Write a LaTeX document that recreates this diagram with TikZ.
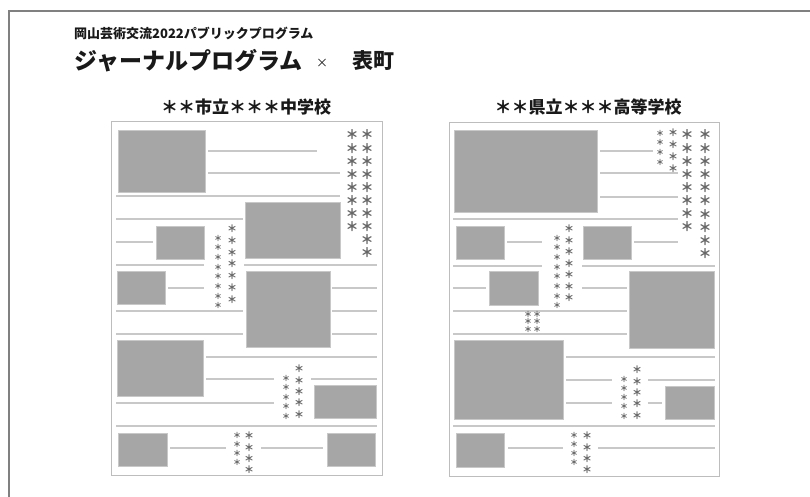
\documentclass[tikz,border=0pt]{standalone}
\usepackage{fontspec}
\setmainfont{Noto Sans CJK JP}
\usepackage{tikz}
\definecolor{photogray}{HTML}{A6A6A6}
\definecolor{rulegray}{HTML}{C8C8C8}
\definecolor{pagegray}{HTML}{BDBDBD}
\definecolor{framegray}{HTML}{808080}
\definecolor{stargray}{HTML}{666666}
\tikzstyle{frame} = [draw=framegray, line width=2.2pt]
\tikzstyle{page} = [draw=pagegray, line width=1pt]
\tikzstyle{photo} = [fill=photogray, draw=rulegray, line width=0.6pt]
\tikzstyle{rule} = [draw=rulegray, line width=1.4pt]
\tikzstyle{title} = [inner sep=0pt, text=black!90, font=\bfseries]
\tikzstyle{bigstar} = [inner sep=0pt, text=stargray, font=\bfseries\fontsize{13}{13}\selectfont]
\tikzstyle{midstar} = [inner sep=0pt, text=stargray, font=\bfseries\fontsize{10}{10}\selectfont]
\tikzstyle{smallstar} = [inner sep=0pt, text=stargray, font=\bfseries\fontsize{8}{8}\selectfont]

\begin{document}
\begin{tikzpicture}[x=1pt, y=-1pt]
\useasboundingbox (0,0) rectangle (810,497);
\draw [frame] (810,11) -- (9,11) -- (9,497);

% headings
\node (sub) [title, anchor=west, font=\bfseries\fontsize{13}{13}\selectfont] at (74,33) {岡山芸術交流2022パブリックプログラム};
\node (head) [title, anchor=west, font=\bfseries\fontsize{23}{23}\selectfont] at (74,61) {ジャーナルプログラム};
\node (cross) [title, font=\fontsize{12}{12}\selectfont] at (322,63) {×};
\node (town) [title, anchor=west, font=\bfseries\fontsize{21}{21}\selectfont] at (352,61) {表町};
\node (junior) [title, font=\bfseries\fontsize{17}{17}\selectfont] at (246,107) {＊＊市立＊＊＊中学校};
\node (senior) [title, font=\bfseries\fontsize{17}{17}\selectfont] at (588,107) {＊＊県立＊＊＊高等学校};

% left page
\draw [page] (111,122) rectangle (382,475);
\draw [photo] (118,130) rectangle (205,192);
\draw [photo] (245,202) rectangle (340,258);
\draw [photo] (156,226) rectangle (204,259);
\draw [photo] (117,271) rectangle (165,304);
\draw [photo] (246,271) rectangle (330,347);
\draw [photo] (117,340) rectangle (203,396);
\draw [photo] (314,385) rectangle (376,418);
\draw [photo] (118,433) rectangle (167,466);
\draw [photo] (327,433) rectangle (375,466);

\draw [rule] (208,151) -- (317,151);
\draw [rule] (208,173) -- (340,173);
\draw [rule] (116,196) -- (340,196);
\draw [rule] (116,219) -- (243,219);
\draw [rule] (116,242) -- (153,242);
\draw [rule] (116,265) -- (204,265);
\draw [rule] (244,265) -- (377,265);
\draw [rule] (168,288) -- (204,288);
\draw [rule] (332,288) -- (377,288);
\draw [rule] (116,311) -- (243,311);
\draw [rule] (332,311) -- (377,311);
\draw [rule] (116,334) -- (243,334);
\draw [rule] (332,334) -- (377,334);
\draw [rule] (206,357) -- (377,357);
\draw [rule] (206,379) -- (274,379);
\draw [rule] (311,379) -- (377,379);
\draw [rule] (116,403) -- (274,403);
\draw [rule] (116,426) -- (377,426);
\draw [rule] (170,448) -- (226,448);
\draw [rule] (261,448) -- (323,448);

\foreach \k in {0,...,7} \node [bigstar] at (352,{135+13.1*\k}) {＊};
\foreach \k in {0,...,9} \node [bigstar] at (367,{135+13.1*\k}) {＊};
\foreach \k in {0,...,7} \node [smallstar] at (218,{238+9.7*\k}) {＊};
\foreach \k in {0,...,6} \node [midstar] at (232,{229+11.7*\k}) {＊};
\foreach \k in {0,...,4} \node [smallstar] at (286,{378+9.5*\k}) {＊};
\foreach \k in {0,...,4} \node [midstar] at (299,{369+11.3*\k}) {＊};
\foreach \k in {0,...,3} \node [smallstar] at (237,{435+9.3*\k}) {＊};
\foreach \k in {0,...,3} \node [midstar] at (249,{436+11.3*\k}) {＊};

% right page
\draw [page] (449,123) rectangle (719,476);
\draw [photo] (454,130) rectangle (597,212);
\draw [photo] (456,226) rectangle (504,259);
\draw [photo] (583,226) rectangle (631,259);
\draw [photo] (489,271) rectangle (538,305);
\draw [photo] (629,271) rectangle (714,348);
\draw [photo] (454,340) rectangle (563,419);
\draw [photo] (665,386) rectangle (714,419);
\draw [photo] (456,433) rectangle (504,467);

\draw [rule] (600,151) -- (653,151);
\draw [rule] (600,173) -- (678,173);
\draw [rule] (600,197) -- (678,197);
\draw [rule] (453,219) -- (678,219);
\draw [rule] (507,242) -- (542,242);
\draw [rule] (634,242) -- (678,242);
\draw [rule] (453,266) -- (542,266);
\draw [rule] (582,266) -- (715,266);
\draw [rule] (453,288) -- (486,288);
\draw [rule] (582,288) -- (627,288);
\draw [rule] (453,311) -- (627,311);
\draw [rule] (453,334) -- (627,334);
\draw [rule] (566,357) -- (715,357);
\draw [rule] (566,380) -- (612,380);
\draw [rule] (648,380) -- (715,380);
\draw [rule] (566,403) -- (612,403);
\draw [rule] (648,403) -- (662,403);
\draw [rule] (453,426) -- (715,426);
\draw [rule] (508,448) -- (563,448);
\draw [rule] (598,448) -- (715,448);

\foreach \k in {0,...,3} \node [smallstar] at (660,{133+9.7*\k}) {＊};
\foreach \k in {0,...,3} \node [midstar] at (673,{133+12*\k}) {＊};
\foreach \k in {0,...,7} \node [bigstar] at (687,{135+13.1*\k}) {＊};
\foreach \k in {0,...,9} \node [bigstar] at (705,{135+13.2*\k}) {＊};
\foreach \k in {0,...,7} \node [smallstar] at (557,{238+9.7*\k}) {＊};
\foreach \k in {0,...,6} \node [midstar] at (569,{229+11.5*\k}) {＊};
\foreach \k in {0,...,2} \node [smallstar] at (528,{314+7.5*\k}) {＊};
\foreach \k in {0,...,2} \node [smallstar] at (537,{314+7.5*\k}) {＊};
\foreach \k in {0,...,4} \node [smallstar] at (624,{379+9.3*\k}) {＊};
\foreach \k in {0,...,4} \node [midstar] at (637,{370+11.3*\k}) {＊};
\foreach \k in {0,...,3} \node [smallstar] at (574,{435+9.3*\k}) {＊};
\foreach \k in {0,...,3} \node [midstar] at (587,{436+11.3*\k}) {＊};
\end{tikzpicture}
\end{document}
